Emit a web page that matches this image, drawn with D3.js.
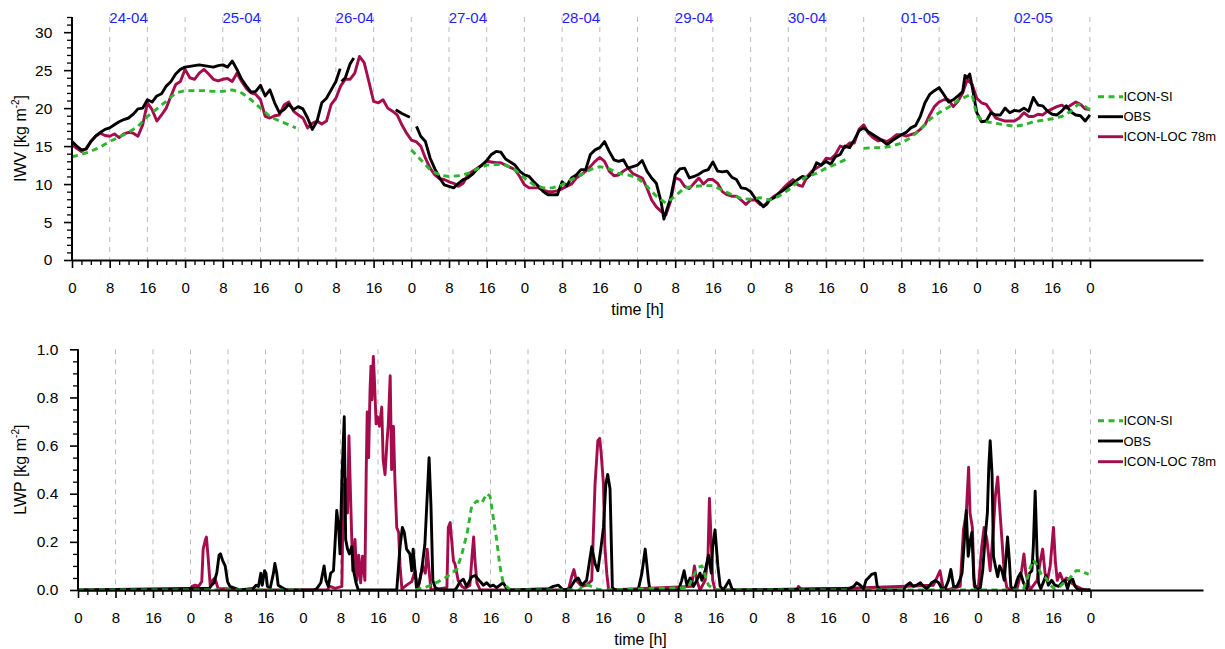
<!DOCTYPE html>
<html><head><meta charset="utf-8">
<script src="https://cdn.jsdelivr.net/npm/d3@7"></script>
<style>
body{margin:0;background:#fff}
svg{display:block}
text{font-family:"Liberation Sans",Arial,Helvetica,sans-serif}
</style>
</head><body>
<svg id="chart" width="1225" height="649"></svg>
<script>
// ---------------- DATA ----------------
const dayLabels = ["24-04","25-04","26-04","27-04","28-04","29-04","30-04","01-05","02-05"];
const hourTickValues = d3.range(0, 217, 8);      // labelled every 8 h
const minorHourTicks = d3.range(0, 217, 2);
const iwvTicks = [0,5,10,15,20,25,30];
const lwpTicks = [0,0.2,0.4,0.6,0.8,1.0];
const seriesNames = ["ICON-SI","OBS","ICON-LOC 78m"];
const seriesColors = ["#2db52d","#000000","#a50c4b"];

// IWV [kg m-2]  (hour, value); null = gap
const iwvObs = [[0,15.6],[1,15.0],[2,14.5],[3,14.6],[4,15.6],[5,16.3],[6,16.8],[7,17.2],[8,17.4],[9,17.8],[10,18.2],[11,18.5],[12,18.7],[13,19.2],[14,19.9],[15,20.0],[16,21.1],[17,20.8],[18,21.6],[19,21.9],[20,22.9],[21,23.5],[22,24.5],[23,25.1],[24,25.4],[25,25.5],[26,25.6],[27,25.7],[28,25.6],[29,25.5],[30,25.4],[31,25.6],[32,25.7],[33,25.4],[34,26.2],[35,25.1],[36,23.8],[37,22.9],[38,22.1],[39,22.2],[40,23.0],[41,21.6],[42,22.4],[43,20.7],[44,19.4],[45,19.8],[46,20.5],[47,19.8],[48,20.2],[49,19.9],[50,18.7],[51,17.2],[52,18.3],[53,20.7],[54,21.3],[55,22.4],[56,23.5],[56.9,25.2],[57.05,null],[57.2,23.5],[58,24.0],[59,25.8],[59.8,26.6],[64,null],[68.7,19.8],[70,19.3],[71.7,18.8],[72.4,null],[73.1,17.6],[74,16.3],[75,15.6],[76,13.4],[77,12.0],[78,10.8],[79,9.9],[80,9.7],[81,9.5],[82,10.1],[83,10.6],[84,10.8],[85,11.3],[86,12.0],[87,12.5],[88,13.1],[89,13.9],[90,14.3],[91,14.2],[92,13.3],[93,12.9],[94,12.5],[95,11.7],[96,11.2],[97,11.0],[98,10.3],[99,9.7],[100,9.0],[101,8.6],[102,8.6],[103,8.6],[104,10.3],[105,9.8],[106,10.8],[107,11.2],[108,11.9],[109,11.9],[110,13.9],[111,14.5],[112,14.8],[113,15.6],[114,14.3],[115,13.2],[116,13.0],[117,13.2],[118,12.1],[119,12.3],[120,12.5],[121,13.1],[122,11.7],[123,10.8],[124,10.1],[125,7.7],[125.6,5.4],[126,6.2],[127,8.1],[128,11.2],[129,12.0],[130,12.1],[131,10.8],[132,11.0],[133,11.3],[134,11.7],[135,11.9],[136,12.9],[137,11.7],[138,11.6],[139,11.7],[140,10.9],[141,10.6],[142,9.5],[143,9.4],[144,9.0],[145,8.1],[146,7.5],[146.7,7.0],[147.5,7.4],[148,7.9],[149,8.2],[150,8.8],[151,9.2],[152,9.7],[153,10.1],[154,10.6],[155,11.0],[156,10.8],[157,11.4],[158,12.8],[159,12.5],[160,13.0],[161,12.6],[162,13.6],[163,13.9],[164,15.0],[165,14.8],[166,15.8],[167,17.0],[168,17.4],[169,16.9],[170,16.5],[171,16.1],[172,15.7],[173,15.2],[174,15.7],[175,16.1],[176,16.5],[177,16.8],[178,17.4],[179,17.7],[180,18.9],[181,20.7],[182,21.8],[183,22.3],[184,22.7],[185,21.8],[186,20.8],[187,21.1],[188,21.6],[189,22.2],[189.5,24.3],[190,24.0],[190.5,24.5],[191,22.9],[192,19.4],[193,18.2],[194,18.3],[195,19.4],[196,19.1],[197,19.1],[198,20.0],[199,19.4],[200,19.7],[201,19.6],[202,20.0],[203,19.6],[204,21.4],[205,20.4],[206,20.3],[207,19.6],[208,19.2],[209,19.1],[210,19.6],[211,20.3],[212,19.5],[213,19.1],[214,19.0],[215,18.3],[216,19.1]];

const iwvLoc = [[0,15.2],[1,14.7],[2,14.3],[3,14.7],[4,15.6],[5,16.3],[6,16.7],[7,16.4],[8,16.3],[9,16.6],[10,16.1],[11,16.6],[12,16.8],[13,16.7],[14,16.3],[15,17.8],[16,20.7],[17,19.8],[18,18.3],[19,19.1],[20,20.0],[21,21.6],[22,23.1],[23,23.5],[24,25.1],[25,24.0],[26,23.8],[27,24.6],[28,25.1],[29,24.5],[30,23.8],[31,23.6],[32,23.8],[33,23.9],[34,23.5],[35,24.6],[36,23.5],[37,22.6],[38,22.0],[39,21.8],[40,21.1],[41,18.9],[42,18.7],[43,19.0],[44,19.1],[45,20.4],[46,20.8],[47,19.6],[48,19.1],[49,18.7],[50,17.4],[51,18.0],[52,18.3],[53,17.9],[54,18.3],[55,20.5],[56,21.3],[57,22.9],[58,23.8],[59,23.8],[60,24.6],[61,26.8],[62,26.0],[63,23.5],[64,20.9],[65,20.7],[66,21.1],[67,20.0],[68,19.6],[69,19.1],[70,17.8],[71,16.7],[72,15.8],[73,15.6],[74,15.0],[75,13.4],[76,12.1],[77,11.2],[78,10.7],[79,10.6],[80,10.3],[81,10.1],[82,9.7],[83,10.1],[84,11.2],[85,11.7],[86,12.1],[87,12.5],[88,13.0],[89,12.9],[90,12.8],[91,12.8],[92,12.5],[93,12.2],[94,11.9],[95,11.0],[96,9.9],[97,9.5],[98,9.5],[99,9.5],[100,9.2],[101,9.0],[102,9.0],[103,9.1],[104,9.4],[105,9.7],[106,10.0],[107,10.8],[108,11.2],[109,11.7],[110,12.3],[111,13.0],[112,13.5],[113,13.0],[114,11.7],[115,11.1],[116,11.2],[117,11.7],[118,12.1],[119,11.4],[120,11.1],[121,10.8],[122,9.5],[123,7.9],[124,7.0],[125,6.4],[126,5.9],[127,7.7],[128,10.8],[129,10.6],[130,9.7],[131,9.4],[132,10.1],[133,10.8],[134,10.0],[135,10.6],[136,10.6],[137,10.1],[138,9.0],[139,8.6],[140,8.4],[141,8.4],[142,7.9],[143,7.3],[144,7.9],[145,7.9],[146,7.3],[147,7.2],[148,7.9],[149,8.4],[150,8.8],[151,9.5],[152,10.1],[153,10.6],[154,9.9],[155,9.7],[156,11.0],[157,11.7],[158,12.1],[159,12.5],[160,13.4],[161,13.3],[162,13.9],[163,15.0],[164,14.8],[165,15.4],[166,15.4],[167,17.2],[168,17.8],[169,16.7],[170,16.1],[171,15.7],[172,15.8],[173,15.6],[174,16.0],[175,16.5],[176,16.5],[177,16.3],[178,16.5],[179,16.7],[180,17.2],[181,17.8],[182,19.1],[183,20.2],[184,20.8],[185,21.1],[186,21.1],[187,20.2],[188,20.9],[189,22.0],[190,23.8],[191,23.1],[192,21.3],[193,20.7],[194,20.5],[195,19.6],[196,18.7],[197,18.5],[198,18.3],[199,18.3],[200,18.3],[201,18.7],[202,19.4],[203,18.9],[204,18.9],[205,19.2],[206,19.1],[207,19.6],[208,19.9],[209,20.2],[210,20.4],[211,20.0],[212,20.4],[213,20.8],[214,20.5],[215,19.9],[216,19.8]];

const iwvSi = [[0,13.6],[2,13.9],[4,14.3],[6,14.9],[8,15.6],[10,16.2],[12,16.8],[14,17.6],[16,18.9],[18,19.9],[20,20.9],[22,22.0],[24,22.3],[26,22.3],[28,22.3],[30,22.2],[32,22.2],[34,22.4],[36,22.0],[38,21.1],[40,20.0],[42,18.9],[44,18.3],[46,17.8],[47.5,17.4],[48,null],[72,14.5],[74,13.2],[76,11.9],[78,11.2],[80,11.0],[82,11.1],[84,11.4],[86,12.0],[88,12.5],[90,12.6],[92,12.5],[94,11.9],[96,10.8],[98,9.9],[100,9.5],[102,9.5],[104,9.9],[106,10.6],[108,11.2],[110,11.9],[112,12.3],[114,12.0],[116,11.4],[118,11.2],[120,10.8],[122,9.7],[124,8.4],[126,7.5],[128,8.4],[130,9.5],[132,9.7],[134,9.8],[136,9.8],[138,9.2],[140,8.6],[142,8.1],[144,8.0],[146,8.2],[148,7.9],[150,8.4],[152,9.2],[154,10.3],[156,11.0],[158,11.4],[160,12.1],[162,12.6],[164.4,13.3],[165,null],[168,14.7],[170,14.8],[172,14.8],[174,15.0],[176,15.4],[178,16.1],[180,17.2],[182,18.5],[184,19.4],[186,20.1],[188,21.0],[190,21.6],[191,21.8],[192,19.0],[193,18.5],[194,18.2],[196,18.0],[198,17.8],[200,17.6],[202,17.8],[204,18.2],[206,18.4],[208,18.6],[210,18.9],[212,19.6],[213.5,20.5],[215,20.2],[216,19.8]];

// LWP [kg m-2]
const lwpObs = [[0,0],[28.0,0.007],[28.5,0.02],[29.0,0.03],[29.6,0.07],[30.1,0.145],[30.4,0.15],[30.9,0.12],[31.4,0.10],[31.9,0.035],[32.4,0.015],[33.1,0.01],[34.6,0],[37.4,0.007],[38.0,0.02],[38.5,0.015],[39.0,0.07],[39.3,0.02],[39.8,0.08],[40.1,0.07],[40.4,0.015],[41.0,0.007],[41.7,0.07],[42.0,0.11],[42.4,0.07],[42.7,0.02],[43.5,0.01],[44.5,0],[50.2,0],[50.9,0.005],[51.8,0.03],[52.5,0.10],[52.9,0.04],[53.4,0.015],[53.9,0.07],[54.5,0.08],[54.8,0.18],[55.2,0.33],[55.6,0.26],[55.9,0.15],[56.3,0.46],[56.8,0.72],[57.1,0.21],[57.5,0.17],[57.9,0.15],[58.4,0.18],[58.8,0.08],[59.3,0.03],[59.8,0],[68.0,0],[68.7,0.18],[69.2,0.26],[69.6,0.24],[70.1,0.17],[70.8,0.15],[71.2,0.08],[71.5,0.17],[71.9,0.08],[72.2,0.01],[72.8,0.03],[73.3,0.08],[74.0,0.19],[74.6,0.43],[74.9,0.55],[75.3,0.35],[75.7,0.04],[76.2,0.01],[77.2,0],[80.4,0],[80.8,0.01],[81.5,0.035],[82.2,0.045],[82.9,0.015],[84.0,0.055],[84.7,0.06],[85.8,0.035],[86.5,0.02],[87.2,0.03],[87.9,0.015],[88.6,0.02],[89.3,0.01],[90.0,0.02],[90.7,0.03],[91.5,0.005],[92.5,0],[100.4,0.005],[101.4,0.015],[102.5,0.02],[103.5,0],[104.9,0.005],[106.0,0.04],[106.7,0.05],[107.5,0.02],[108.5,0.04],[109.6,0.18],[110.3,0.11],[110.9,0.08],[111.6,0.18],[112.1,0.26],[112.6,0.44],[113.0,0.48],[113.5,0.42],[114.0,0.01],[114.6,0],[119.5,0],[120.3,0.07],[121.0,0.17],[121.7,0.04],[122.0,0],[128.1,0],[128.8,0.04],[129.3,0.08],[129.9,0.02],[130.6,0.05],[131.3,0.015],[132.0,0.04],[132.7,0.07],[133.1,0.04],[133.8,0.08],[134.5,0.145],[135.1,0.07],[135.4,0.18],[135.9,0.25],[136.5,0.1],[137.0,0.015],[137.7,0],[138.9,0.04],[139.5,0.005],[140,0],[157.6,0.005],[162.6,0.005],[164.4,0.005],[165.5,0.015],[166.1,0.03],[166.9,0.02],[167.6,0.005],[168.1,0.04],[168.6,0.05],[169.3,0.065],[170.1,0.07],[170.5,0.015],[171.1,0],[176.1,0],[176.8,0.02],[177.5,0.03],[178.2,0.015],[178.9,0.02],[179.7,0.03],[180.4,0.015],[181.1,0.005],[182.1,0.03],[182.9,0.04],[183.6,0.03],[184.3,0.005],[185.0,0.005],[185.7,0.04],[186.2,0.085],[186.8,0.015],[187.5,0.015],[188.1,0.04],[188.6,0.07],[189.0,0.18],[189.5,0.33],[189.9,0.14],[190.3,0.2],[190.7,0.24],[191.1,0.05],[191.5,0],[192.5,0.01],[193.0,0.08],[193.5,0.21],[194.0,0.32],[194.3,0.51],[194.6,0.62],[195.0,0.48],[195.3,0.14],[195.7,0.1],[196.2,0.055],[196.6,0.1],[197.1,0.08],[197.6,0.04],[198.0,0.14],[198.3,0.22],[198.7,0.12],[199.0,0.015],[199.7,0],[200.6,0.055],[201.1,0.07],[201.7,0.03],[202.4,0.005],[203.0,0.07],[203.5,0.08],[203.8,0.18],[204.2,0.41],[204.6,0.15],[204.9,0.03],[205.4,0.005],[206.1,0.04],[206.5,0.06],[207.0,0.02],[207.7,0.04],[208.4,0.02],[209.2,0.015],[209.9,0.03],[210.6,0.04],[211.1,0.005],[211.6,0.04],[212.2,0.045],[212.7,0.015],[213.4,0],[216,0]];

const lwpLoc = [[0,0],[23.9,0],[24.3,0.015],[25.0,0.02],[25.7,0.015],[26.4,0.035],[26.7,0.17],[27.2,0.21],[27.4,0.22],[27.7,0.15],[28.2,0.02],[28.7,0.04],[29.2,0.05],[29.9,0.005],[31.7,0.005],[33.9,0],[53.1,0],[53.8,0.015],[54.8,0.007],[56.3,0.015],[56.6,0.44],[56.8,0.26],[57.2,0.46],[57.5,0.32],[57.8,0.64],[58.2,0.35],[58.6,0.08],[59.1,0.21],[59.5,0.04],[59.9,0.145],[60.3,0.03],[60.7,0.14],[61.2,0.04],[61.5,0.51],[61.7,0.74],[62.0,0.55],[62.3,0.83],[62.5,0.93],[62.7,0.79],[63.0,0.97],[63.2,0.89],[63.6,0.69],[63.9,0.72],[64.3,0.68],[64.8,0.76],[65.1,0.54],[65.5,0.48],[65.9,0.61],[66.2,0.69],[66.6,0.89],[66.9,0.50],[67.3,0.68],[67.6,0.46],[68.0,0.26],[68.4,0.24],[68.7,0.10],[69.1,0.005],[70.1,0.02],[71.2,0.035],[71.9,0.08],[72.5,0],[73.0,0.05],[73.5,0.1],[74.1,0.07],[74.5,0.17],[74.9,0.08],[75.3,0],[78.7,0.01],[79.0,0.26],[79.4,0.28],[79.7,0.21],[80.1,0.12],[80.4,0.11],[80.8,0.07],[81.1,0.04],[81.9,0.015],[82.6,0.007],[83.6,0.02],[84.1,0.15],[84.4,0.22],[84.7,0.12],[85.1,0.03],[85.8,0],[104.6,0],[105.3,0.055],[105.8,0.085],[106.3,0.04],[107.5,0.015],[108.5,0.02],[109.6,0.04],[109.9,0.21],[110.3,0.44],[110.9,0.62],[111.3,0.63],[111.6,0.57],[112.1,0.44],[112.4,0.18],[112.8,0.07],[113.2,0],[130.9,0.015],[131.5,0.1],[132.0,0.04],[132.7,0],[133.8,0.04],[134.4,0.14],[134.7,0.38],[135.1,0.19],[135.4,0.04],[135.9,0],[153.4,0],[153.7,0.015],[154.4,0],[182.5,0.02],[183.9,0.08],[184.5,0.015],[185.4,0],[188.2,0.015],[188.9,0.25],[189.5,0.32],[190.0,0.51],[190.3,0.32],[190.8,0.26],[191.2,0.015],[192.1,0.015],[192.8,0.18],[193.3,0.26],[193.9,0.21],[194.6,0.08],[195.3,0.26],[195.7,0.39],[196.2,0.47],[196.6,0.35],[197.1,0.21],[197.6,0.07],[198.2,0.005],[200.3,0.005],[201.3,0.08],[201.8,0.15],[202.2,0.07],[203.1,0],[204.6,0.04],[205.3,0.12],[205.8,0.17],[206.3,0.07],[206.8,0.04],[207.4,0.1],[208.1,0.26],[208.5,0.12],[208.9,0.04],[209.5,0.07],[210.2,0.035],[210.9,0.05],[211.9,0.03],[213.0,0.015],[214.1,0.005],[215.2,0],[216,0]];

const lwpSi = [[0,0],[47.5,0],[48,null],[72,0],[74,0.01],[75.8,0.025],[76.9,0.035],[78.3,0.05],[79.7,0.07],[80.8,0.085],[81.9,0.15],[83.0,0.235],[84.0,0.35],[85.1,0.37],[86.1,0.36],[87.2,0.40],[87.9,0.39],[88.6,0.30],[89.3,0.21],[90.0,0.10],[90.7,0.03],[91.9,0.005],[93,0],[107,0],[107.5,0.015],[108.9,0.02],[110.7,0.005],[111.7,0],[130.2,0.01],[131.3,0.06],[132.4,0.095],[133.1,0.1],[133.8,0.06],[134.5,0.02],[135.6,0.005],[136.5,0],[164.4,0],[165,null],[168,0],[201.0,0],[201.7,0.005],[202.4,0.04],[203.1,0.09],[203.8,0.125],[204.7,0.10],[205.6,0.06],[206.5,0.05],[207.4,0.02],[208.4,0.005],[209.5,0.015],[210.6,0.035],[211.6,0.05],[212.9,0.08],[213.9,0.08],[215.0,0.07],[215.6,0.065]];

// ---------------- DRAW ----------------
const svg = d3.select("#chart");
const FONT = '"Liberation Sans",Arial,Helvetica,sans-serif';
const LW = 2.9;

function panel(cfg){
  const x = d3.scaleLinear().domain([0,240]).range([cfg.x0, 1203]);
  const y = d3.scaleLinear().domain(cfg.yDomain).range([cfg.yBottom, cfg.yTop]);
  const g = svg.append("g");

  // gridlines
  g.selectAll("line.grid").data(hourTickValues.filter(h=>h>0)).enter().append("line")
    .attr("x1",d=>x(d)).attr("x2",d=>x(d))
    .attr("y1",cfg.yTop).attr("y2",cfg.yBottom)
    .attr("stroke","#bcbcbc").attr("stroke-width",1).attr("stroke-dasharray","5,5");

  // series (drawn LOC, OBS, SI)
  const line = d3.line().defined(d=>d[1]!==null).x(d=>x(d[0])).y(d=>y(d[1]));
  const order = [2,1,0];
  order.forEach(i=>{
    g.append("path").datum(cfg.series[i]).attr("d",line)
      .attr("fill","none").attr("stroke",seriesColors[i])
      .attr("stroke-width",LW).attr("stroke-linejoin","round")
      .attr("stroke-dasharray", i===0 ? "6,4.5" : null);
  });

  // x axis
  const xMinor = d3.axisBottom(x).tickValues(minorHourTicks.filter(h=>h%8!==0)).tickSize(5).tickSizeOuter(0).tickFormat("");
  const xMajor = d3.axisBottom(x).tickValues(hourTickValues).tickSize(8).tickSizeOuter(0).tickPadding(14).tickFormat(d=>d%24);
  const gxm = g.append("g").attr("transform",`translate(0,${cfg.yBottom})`).call(xMinor);
  gxm.select(".domain").remove();
  gxm.selectAll("line").attr("stroke-width",1.3);
  const gx = g.append("g").attr("transform",`translate(0,${cfg.yBottom})`).call(xMajor);
  gx.select(".domain").attr("stroke-width",2);
  gx.selectAll("line").attr("stroke-width",1.6);
  gx.selectAll("text").attr("font-size",15).attr("font-family",FONT).attr("fill","#000");

  // y axis
  const yMinor = d3.axisLeft(y).tickValues(cfg.yMinor).tickSize(5).tickSizeOuter(0).tickFormat("");
  const yMajor = d3.axisLeft(y).tickValues(cfg.yTicks).tickSize(8).tickSizeOuter(0).tickPadding(11.7).tickFormat(cfg.yFormat);
  const gym = g.append("g").attr("transform",`translate(${cfg.x0},0)`).call(yMinor);
  gym.selectAll("line").attr("stroke-width",1.3);
  gym.select(".domain").attr("stroke-width",2).attr("d",`M0,${cfg.yTop}V${cfg.yBottom}`);
  const gy = g.append("g").attr("transform",`translate(${cfg.x0},0)`).call(yMajor);
  gy.select(".domain").remove();
  gy.selectAll("line").attr("stroke-width",1.6);
  gy.selectAll("text").attr("font-size",15.5).attr("font-family",FONT).attr("fill","#000");

  // axis titles
  g.append("text").attr("x",(cfg.x0+1203)/2).attr("y",cfg.yBottom+54.5)
    .attr("text-anchor","middle").attr("font-size",16).text("time [h]");
  const yt = g.append("text").attr("transform",`translate(${cfg.ylabX},${(cfg.yTop+cfg.yBottom)/2}) rotate(-90)`)
    .attr("text-anchor","middle").attr("font-size",16);
  yt.append("tspan").text(cfg.ylab+" [kg m");
  yt.append("tspan").attr("font-size",10).attr("dy",-7).text("-2");
  yt.append("tspan").attr("dy",7).text("]");

  // legend
  cfg.legendY.forEach((ly,i)=>{
    g.append("line").attr("x1",1098).attr("x2",1123).attr("y1",ly).attr("y2",ly)
      .attr("stroke",seriesColors[i]).attr("stroke-width",LW)
      .attr("stroke-dasharray", i===0 ? "6,4.5" : null);
    g.append("text").attr("x",1123.5).attr("y",ly).attr("dy","0.36em")
      .attr("font-size",13).text(seriesNames[i]);
  });
  return {x,y,g};
}

const iwvPanel = panel({
  x0:72, yTop:17, yBottom:260, yDomain:[0,32],
  yTicks:iwvTicks, yMinor:d3.range(0,33,1).filter(v=>v%5!==0), yFormat:d=>d,
  ylab:"IWV", ylabX:25.5,
  series:[iwvSi, iwvObs, iwvLoc],
  legendY:[96.7,116.7,136.7]
});
// date labels
iwvPanel.g.selectAll("text.day").data(dayLabels).enter().append("text")
  .attr("x",(d,i)=>iwvPanel.x(i*24+12)).attr("y",23.3)
  .attr("text-anchor","middle").attr("font-size",15).attr("fill","#1f1fff").text(d=>d);

panel({
  x0:78, yTop:349.3, yBottom:590, yDomain:[0,1],
  yTicks:lwpTicks, yMinor:d3.range(0,21,1).map(v=>v*0.05).filter((v,i)=>i%4!==0), yFormat:d3.format(".1f"),
  ylab:"LWP", ylabX:26,
  series:[lwpSi, lwpObs, lwpLoc],
  legendY:[420.7,441,461.7]
});
</script>
</body></html>
